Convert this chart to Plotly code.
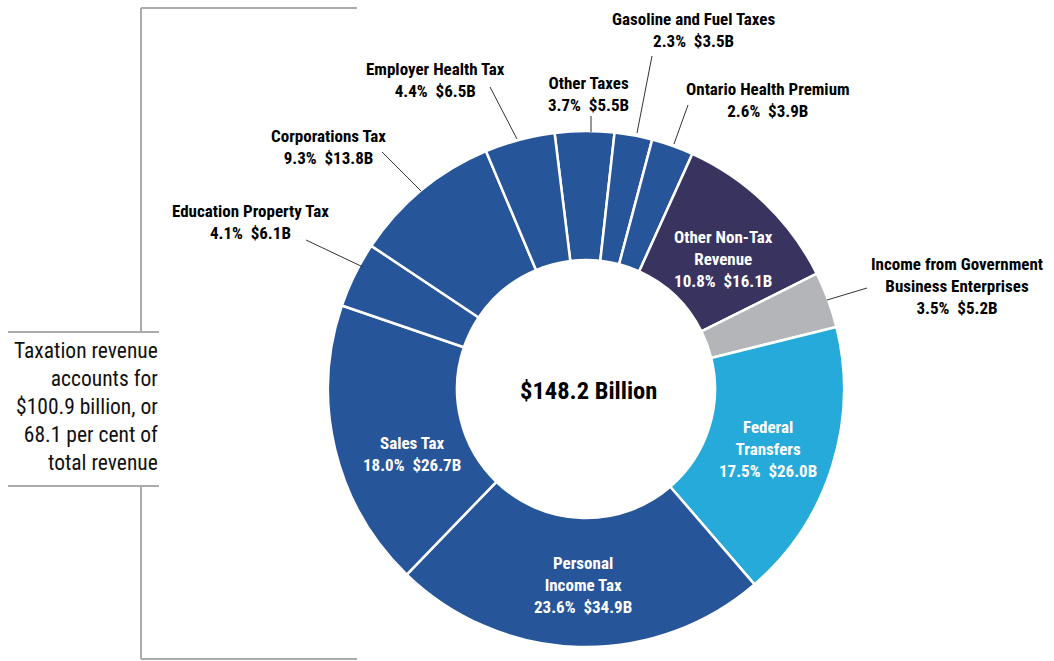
import plotly.graph_objects as go

W, H = 1054, 661

# Revenue sources, clockwise from the top of the ring
sources = [
    "Other Taxes",
    "Gasoline and Fuel Taxes",
    "Ontario Health Premium",
    "Other Non-Tax<br>Revenue",
    "Income from Government<br>Business Enterprises",
    "Federal<br>Transfers",
    "Personal<br>Income Tax",
    "Sales Tax",
    "Education Property Tax",
    "Corporations Tax",
    "Employer Health Tax",
]
amounts_b = [5.5, 3.5, 3.9, 16.1, 5.2, 26.0, 34.9, 26.7, 6.1, 13.8, 6.5]
shares_pct = [3.7, 2.3, 2.6, 10.8, 3.5, 17.5, 23.6, 18.0, 4.1, 9.3, 4.4]
total_label = "$148.2 Billion"
side_note = "Taxation revenue<br>accounts for<br>$100.9 billion, or<br>68.1 per cent of<br>total revenue"

TAX = "#27559a"
NONTAX = "#38335f"
GBE = "#b4b5b8"
FED = "#26aad9"
colors = [TAX, TAX, TAX, NONTAX, GBE, FED, TAX, TAX, TAX, TAX, TAX]

# label placement (pixel centres), text colour and optional leader line
label_layout = [
    dict(xy=(588, 94), color="black", leader=((591, 116), (591, 132))),
    dict(xy=(693, 30), color="black", leader=((652, 56), (637, 133))),
    dict(xy=(768, 100), color="black", leader=((688, 105), (674, 144))),
    dict(xy=(723, 259), color="white", leader=None),
    dict(xy=(957, 286), color="black", leader=((867, 288), (827, 300))),
    dict(xy=(768, 449), color="white", leader=None),
    dict(xy=(583, 585), color="white", leader=None),
    dict(xy=(412, 454), color="white", leader=None),
    dict(xy=(250, 222), color="black", leader=((306, 240), (363, 267))),
    dict(xy=(328, 147), color="black", leader=((382, 152), (421, 191))),
    dict(xy=(435, 80), color="black", leader=((490, 87), (517, 139))),
]

FONT = "Liberation Sans Narrow, Arial Narrow, Roboto Condensed, Liberation Sans, Arial, sans-serif"


def px(x):
    return x / W


def py(y):
    return 1 - y / H


cx, cy, r = 586, 389, 258

fig = go.Figure(
    go.Pie(
        values=amounts_b,
        labels=[s.replace("<br>", " ") for s in sources],
        sort=False,
        direction="clockwise",
        rotation=-7,
        hole=0.5,
        marker=dict(colors=colors, line=dict(color="white", width=2.5)),
        textinfo="none",
        hoverinfo="label+value+percent",
        showlegend=False,
        domain=dict(x=[px(cx - r), px(cx + r)], y=[py(cy + r), py(cy - r)]),
    )
)

annotations = []
shapes = []
for name, amt, pct, lay in zip(sources, amounts_b, shares_pct, label_layout):
    x, y = lay["xy"]
    annotations.append(
        dict(
            x=px(x), y=py(y), xref="paper", yref="paper",
            xanchor="center", yanchor="middle", showarrow=False,
            text=f"{name}<br>{pct:.1f}%\u00a0\u00a0${amt:.1f}B",
            font=dict(family=FONT, size=17, color=lay["color"], weight="bold"),
            align="center",
        )
    )
    if lay["leader"]:
        (x0, y0), (x1, y1) = lay["leader"]
        shapes.append(
            dict(type="line", xref="paper", yref="paper",
                 x0=px(x0), y0=py(y0), x1=px(x1), y1=py(y1),
                 line=dict(color="#333333", width=1))
        )

# centre total
annotations.append(
    dict(x=px(588), y=py(390), xref="paper", yref="paper",
         xanchor="center", yanchor="middle", showarrow=False,
         text=total_label,
         font=dict(family=FONT, size=24.5, color="black", weight="bold"))
)

# side note about taxation revenue
annotations.append(
    dict(x=px(160), y=py(406), xref="paper", yref="paper",
         xanchor="right", yanchor="middle", showarrow=False, align="right",
         text=side_note,
         font=dict(family=FONT, size=21.5, color="#111111"))
)

# bracket grouping the taxation slices
bracket = [
    ((141, 8), (357, 8)),
    ((141, 8), (141, 332)),
    ((8, 332), (159, 332)),
    ((8, 486), (159, 486)),
    ((141, 486), (141, 659)),
    ((141, 659), (357, 659)),
]
for (x0, y0), (x1, y1) in bracket:
    shapes.append(
        dict(type="line", xref="paper", yref="paper",
             x0=px(x0), y0=py(y0), x1=px(x1), y1=py(y1),
             line=dict(color="#ababaf", width=2))
    )

fig.update_layout(
    width=W, height=H,
    margin=dict(l=0, r=0, t=0, b=0),
    paper_bgcolor="white",
    plot_bgcolor="white",
    annotations=annotations,
    shapes=shapes,
)

fig.write_html("out.html")
